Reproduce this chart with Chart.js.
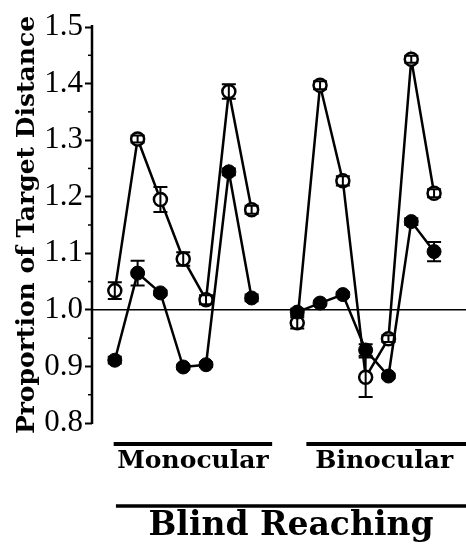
<!DOCTYPE html>
<html>
<head>
<meta charset="utf-8">
<script src="https://cdn.jsdelivr.net/npm/chart.js@4/dist/chart.umd.min.js"></script>
<style>
  html, body { margin: 0; padding: 0; background: #fff; }
  #wrap { width: 466px; height: 550px; }
</style>
</head>
<body>
<div id="wrap"><canvas id="c" width="466" height="550"></canvas></div>
<script>
// Conditions within each viewing group (7 per group)
const groups = ['Monocular', 'Binocular'];
const conditionsPerGroup = 7;

// Open-circle series
const openMono  = [1.034, 1.302, 1.195, 1.090, 1.018, 1.386, 1.177];
const openMonoErr = [0.015, 0.006, 0.022, 0.012, 0.008, 0.013, 0.007];
const openBino  = [0.977, 1.397, 1.228, 0.881, 0.949, 1.443, 1.206];
const openBinoErr = [0.010, 0.007, 0.008, 0.035, 0.006, 0.006, 0.007];

// Filled-circle series
const filledMono = [0.911, 1.065, 1.030, 0.899, 0.903, 1.244, 1.021];
const filledMonoErr = [0.006, 0.022, 0.004, 0.004, 0.004, 0.006, 0.006];
const filledBino = [0.996, 1.012, 1.027, 0.929, 0.883, 1.156, 1.103];
const filledBinoErr = [0.006, 0.004, 0.004, 0.010, 0.004, 0.006, 0.017];

// Y axis
const yTicks = [0.8, 0.9, 1.0, 1.1, 1.2, 1.3, 1.4, 1.5];
const yTitle = 'Proportion of Target Distance';
const xTitle = 'Blind Reaching';

// Positions: group 1 at 0..6, gap at 7, group 2 at 8..14
function toPoints(a, b) {
  const pts = a.map((v, i) => ({ x: i, y: v }));
  pts.push({ x: conditionsPerGroup, y: null });
  b.forEach((v, i) => pts.push({ x: conditionsPerGroup + 1 + i, y: v }));
  return pts;
}
const openPoints = toPoints(openMono, openBino);
const filledPoints = toPoints(filledMono, filledBino);
const openErr = openMonoErr.concat([null], openBinoErr);
const filledErr = filledMonoErr.concat([null], filledBinoErr);

const SERIF = '"Liberation Serif", "DejaVu Serif", serif';
const WIDE_SERIF = '"DejaVu Serif", "Liberation Serif", serif';

const errorBars = {
  id: 'errorBars',
  afterDatasetsDraw(chart) {
    const ctx = chart.ctx;
    const y = chart.scales.y;
    chart.data.datasets.forEach((ds, di) => {
      const meta = chart.getDatasetMeta(di);
      meta.data.forEach((el, i) => {
        const v = ds.data[i].y, e = ds.errors[i];
        if (v == null || e == null) return;
        const x = el.x;
        const yt = y.getPixelForValue(v + e), yb = y.getPixelForValue(v - e);
        ctx.save();
        ctx.strokeStyle = '#000';
        ctx.lineWidth = 2;
        ctx.beginPath();
        ctx.moveTo(x, yt); ctx.lineTo(x, yb);
        ctx.moveTo(x - 7, yt); ctx.lineTo(x + 7, yt);
        ctx.moveTo(x - 7, yb); ctx.lineTo(x + 7, yb);
        ctx.stroke();
        ctx.restore();
      });
    });
  }
};

const decorations = {
  id: 'decorations',
  beforeDatasetsDraw(chart) {
    const ctx = chart.ctx, a = chart.chartArea, y = chart.scales.y;
    ctx.save();
    ctx.strokeStyle = '#000';
    // reference line at 1.0
    const y1 = y.getPixelForValue(1.0);
    ctx.lineWidth = 1.5;
    ctx.beginPath(); ctx.moveTo(a.left, y1); ctx.lineTo(a.right, y1); ctx.stroke();
    // axis line
    ctx.lineWidth = 2.5;
    ctx.beginPath(); ctx.moveTo(a.left, a.top - 2); ctx.lineTo(a.left, a.bottom + 1); ctx.stroke();
    // minor ticks
    ctx.lineWidth = 1.5;
    for (let i = 0; i < yTicks.length - 1; i++) {
      const py = y.getPixelForValue((yTicks[i] + yTicks[i + 1]) / 2);
      ctx.beginPath(); ctx.moveTo(a.left - 4, py); ctx.lineTo(a.left, py); ctx.stroke();
    }
    ctx.restore();
  },
  afterDraw(chart) {
    const ctx = chart.ctx, a = chart.chartArea, x = chart.scales.x;
    const base = a.bottom;
    ctx.save();
    ctx.fillStyle = '#000';
    ctx.strokeStyle = '#000';
    // group underlines
    ctx.lineWidth = 4;
    const m0 = x.getPixelForValue(-0.05), m1 = x.getPixelForValue(6.9);
    const b0 = x.getPixelForValue(8.4), b1 = a.right;
    ctx.beginPath();
    ctx.moveTo(m0, base + 21); ctx.lineTo(m1, base + 21);
    ctx.moveTo(b0, base + 21); ctx.lineTo(b1, base + 21);
    ctx.stroke();
    ctx.font = 'bold 25px ' + WIDE_SERIF;
    ctx.textAlign = 'center';
    ctx.textBaseline = 'alphabetic';
    ctx.fillText(groups[0], (m0 + m1) / 2, base + 45);
    ctx.fillText(groups[1], (b0 + b1) / 2 - 2, base + 45);
    // overall line and label
    ctx.lineWidth = 3.5;
    const o0 = x.getPixelForValue(0.05);
    ctx.beginPath(); ctx.moveTo(o0, base + 83); ctx.lineTo(a.right, base + 83); ctx.stroke();
    ctx.font = 'bold 33px ' + WIDE_SERIF;
    ctx.fillText(xTitle, (o0 + a.right) / 2, base + 112);
    ctx.restore();
  }
};

new Chart(document.getElementById('c'), {
  type: 'line',
  data: {
    datasets: [
      {
        label: 'filled',
        data: filledPoints,
        errors: filledErr,
        borderColor: '#000',
        backgroundColor: '#000',
        borderWidth: 2.5,
        pointRadius: 7,
        pointBorderWidth: 1,
        pointBackgroundColor: '#000',
        pointBorderColor: '#000',
        spanGaps: false,
        tension: 0
      },
      {
        label: 'open',
        data: openPoints,
        errors: openErr,
        borderColor: '#000',
        backgroundColor: '#fff',
        borderWidth: 2.5,
        pointRadius: 6.5,
        pointBorderWidth: 2.5,
        pointBackgroundColor: '#fff',
        pointBorderColor: '#000',
        spanGaps: false,
        tension: 0
      }
    ]
  },
  options: {
    responsive: false,
    animation: false,
    events: [],
    layout: { autoPadding: false, padding: { top: 27, bottom: 127, left: 0, right: 0 } },
    plugins: { legend: { display: false }, tooltip: { enabled: false } },
    scales: {
      x: {
        type: 'linear',
        display: false,
        min: -1,
        max: 15.4
      },
      y: {
        type: 'linear',
        min: 0.8,
        max: 1.5,
        afterBuildTicks(scale) { scale.ticks = yTicks.map(v => ({ value: v })); },
        afterFit(scale) { scale.width = 92; },
        border: { display: false },
        grid: {
          drawOnChartArea: false,
          drawTicks: true,
          tickLength: 7,
          tickWidth: 2,
          tickColor: '#000'
        },
        ticks: {
          color: '#000',
          padding: 2,
          font: { family: SERIF, size: 31 },
          callback: v => Number(v).toFixed(1)
        },
        title: {
          display: true,
          text: yTitle,
          color: '#000',
          padding: { top: 12, bottom: 0 },
          font: { family: WIDE_SERIF, size: 25, weight: 'bold' }
        }
      }
    }
  },
  plugins: [decorations, errorBars]
});
</script>
</body>
</html>
